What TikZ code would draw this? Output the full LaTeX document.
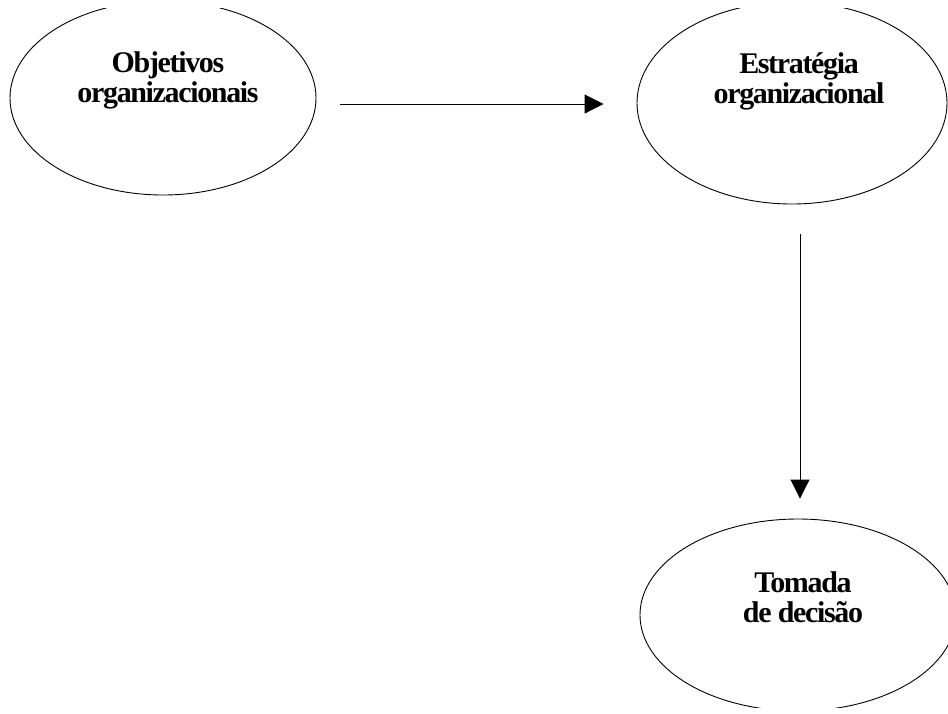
\documentclass[tikz,border=0pt]{standalone}
\usepackage{fontspec}
\setmainfont{Liberation Serif}
\newfontfamily\tightfont[LetterSpace=-4.5]{Liberation Serif}
\usepackage{tikz}
\usetikzlibrary{arrows.meta,calc,shapes.geometric}
\tikzset{>={Triangle[length=19pt,width=19pt]}}
\tikzstyle{bubble}=[
	 ellipse, draw,
	 line width=0.9pt,
	 inner sep=0pt
    ]
\tikzstyle{caption}=[
	 align=center, inner sep=0pt,
	 font=\tightfont\bfseries\fontsize{30}{30}\selectfont
    ]
\tikzstyle{link}=[->, line width=0.9pt]

\begin{document}
\begin{tikzpicture}[x=1pt,y=-1pt]

\useasboundingbox (0,0) rectangle (948,713);
\clip (0,8) rectangle (948,707);

\node[bubble,minimum width=306pt,minimum height=194pt] (obj) at (163,98) {};
\node[bubble,minimum width=310pt,minimum height=202pt] (strat) at (792,103) {};
\node[bubble,minimum width=316pt,minimum height=192pt] (dec) at (798,615) {};

\node[caption] (objT) at (168,80) {Objetivos\\organizacionais};
\node[caption] (stratT) at (799,81) {Estratégia\\organizacional};
\node[caption] (decT) at (803,597) {Tomada\\de decisão};

\draw[link,shorten <=24pt,shorten >=33pt] ([yshift=-6pt]obj.east) -- ([yshift=-6pt]obj.east -| strat.west);
\draw[link,shorten <=30pt,shorten >=20pt] ([xshift=8pt]strat.south) -- ([xshift=8pt]strat.south |- dec.north);

\end{tikzpicture}
\end{document}
